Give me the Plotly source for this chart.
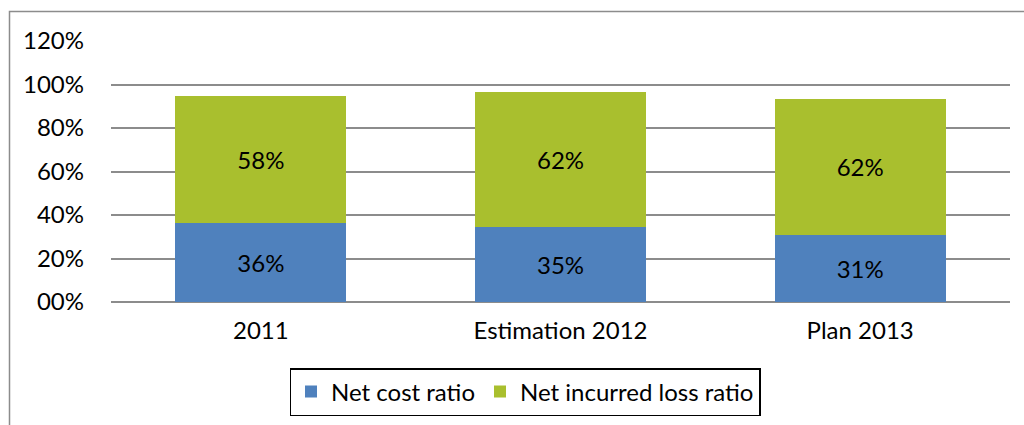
import plotly.graph_objects as go

categories = ["2011", "Estimation 2012", "Plan 2013"]
net_cost_ratio = [0.363, 0.347, 0.31]
net_incurred_loss_ratio = [0.584, 0.619, 0.624]
y_tick_vals = [0, 0.2, 0.4, 0.6, 0.8, 1.0, 1.2]
y_tick_text = ["00%", "20%", "40%", "60%", "80%", "100%", "120%"]

FONT = "Lato, 'Open Sans', sans-serif"
FS = 24
W, H = 1024, 425
L, R, T, B = 111, 14, 41, 123
pw, ph = W - L - R, H - T - B

def px_x(x):
    return (x - L) / pw

def px_y(y):
    return (H - B - y) / ph

fig = go.Figure()
fig.add_trace(go.Bar(
    x=categories, y=net_cost_ratio, name="Net cost ratio",
    marker=dict(color="#4F81BD", line=dict(width=0)),
    texttemplate="%{y:.0%}", textposition="inside", insidetextanchor="middle",
    textfont=dict(family=FONT, size=FS, color="black"),
))
fig.add_trace(go.Bar(
    x=categories, y=net_incurred_loss_ratio, name="Net incurred loss ratio",
    marker=dict(color="#A9BF2E", line=dict(width=0)),
    texttemplate="%{y:.0%}", textposition="inside", insidetextanchor="middle",
    textfont=dict(family=FONT, size=FS, color="black"),
))

fig.update_layout(
    barmode="stack",
    bargap=0.43,
    width=W, height=H,
    margin=dict(l=L, r=R, t=T, b=B, autoexpand=False),
    paper_bgcolor="white", plot_bgcolor="white",
    font=dict(family=FONT, size=FS, color="black"),
    xaxis=dict(showgrid=False, showline=False, zeroline=False, ticks="",
               tickfont=dict(size=FS), ticklabelstandoff=12, fixedrange=True),
    yaxis=dict(range=[0, 1.2], tickvals=y_tick_vals, ticktext=y_tick_text,
               showgrid=True, gridcolor="#8C8C8C", gridwidth=1.5,
               zeroline=True, zerolinecolor="#8C8C8C", zerolinewidth=1.5,
               showline=False, ticks="", ticklabelstandoff=26,
               tickfont=dict(size=FS), fixedrange=True),
    legend=dict(orientation="h", x=px_x(525), xanchor="center",
                y=px_y(392), yanchor="middle",
                bordercolor="black", borderwidth=1.5,
                font=dict(size=FS), itemwidth=30,
                traceorder="normal"),
    shapes=[dict(type="rect", xref="paper", yref="paper",
                 x0=px_x(9.5), x1=px_x(1040), y0=px_y(440), y1=px_y(11.5),
                 line=dict(color="#8C8C8C", width=1.5), fillcolor="rgba(0,0,0,0)",
                 layer="below")],
)

fig.write_html("out.html")
